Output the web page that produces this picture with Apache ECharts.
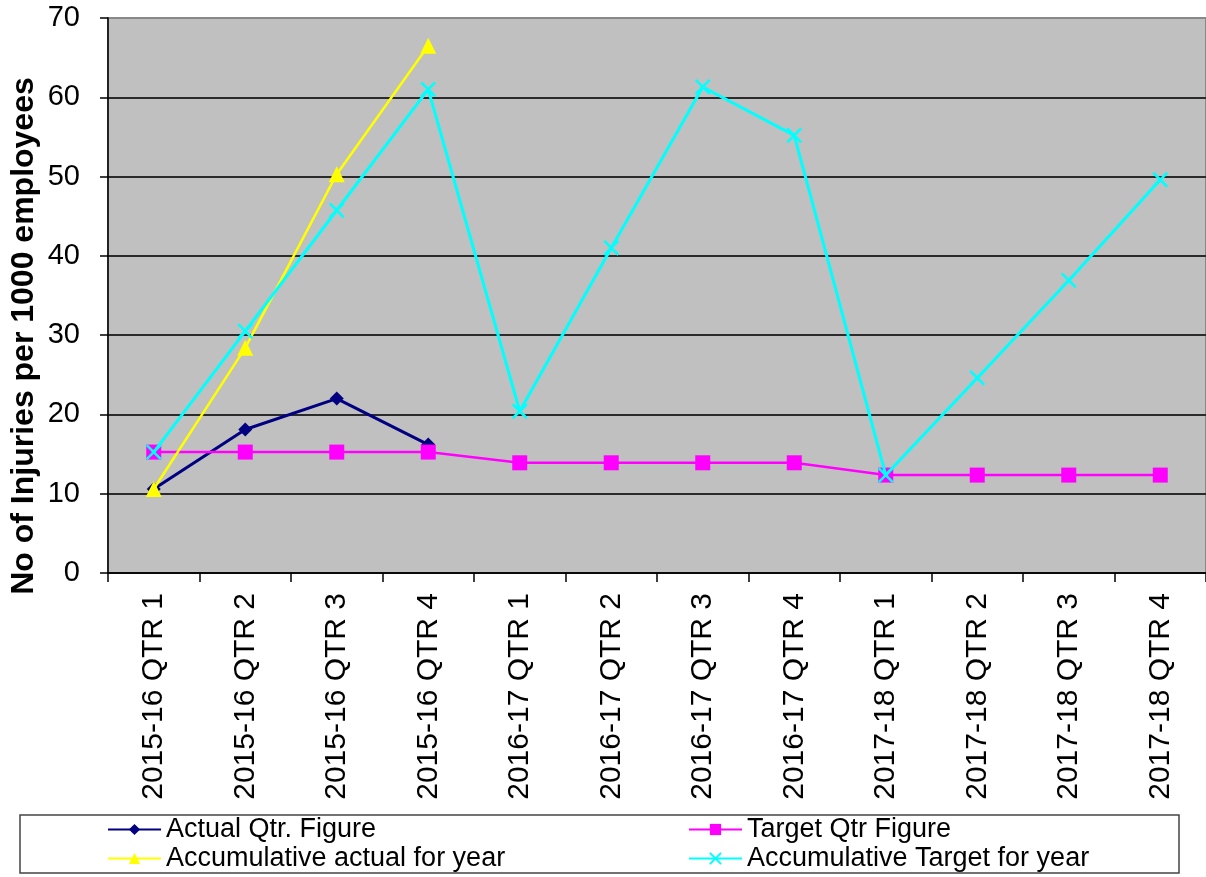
<!DOCTYPE html>
<html>
<head>
<meta charset="utf-8">
<title>Injuries per 1000 employees</title>
<script src="https://cdn.jsdelivr.net/npm/echarts@6/dist/echarts.min.js"></script>
<style>
  html, body { margin: 0; padding: 0; background: #ffffff; }
  #chart { width: 1206px; height: 877px; }
</style>
</head>
<body>
<div id="chart"></div>
<script>
// Quarterly periods on the category axis
const quarters = [
  '2015-16 QTR 1', '2015-16 QTR 2', '2015-16 QTR 3', '2015-16 QTR 4',
  '2016-17 QTR 1', '2016-17 QTR 2', '2016-17 QTR 3', '2016-17 QTR 4',
  '2017-18 QTR 1', '2017-18 QTR 2', '2017-18 QTR 3', '2017-18 QTR 4'
];

// Injuries per 1000 employees
const actualQtr = [10.6, 18.1, 22.0, 16.2, null, null, null, null, null, null, null, null];
const targetQtr = [15.25, 15.25, 15.25, 15.25, 13.9, 13.9, 13.9, 13.9, 12.35, 12.35, 12.35, 12.35];
const accumActual = [10.6, 28.4, 50.3, 66.5, null, null, null, null, null, null, null, null];
const accumTarget = [15.25, 30.5, 45.75, 61.0, 20.4, 41.0, 61.3, 55.2, 12.35, 24.6, 36.9, 49.6];

// Y axis ticks
const yMin = 0, yMax = 70, yStep = 10;

const FONT = "'Liberation Sans', Arial, sans-serif";
const crossPath = 'path://M0,0L10,10M10,0L0,10';

const chart = echarts.init(document.getElementById('chart'), null, { renderer: 'canvas' });

// Gridline colours: top line matches the grey frame, others dark
const splitColors = [];
for (let v = yMin; v <= yMax; v += yStep) splitColors.push(v === yMax ? '#888888' : '#2b2b2b');

// One legend entry per slot so the two columns line up
function legendSlot(name, left, top) {
  return {
    data: [name], left: left, top: top, padding: 0,
    itemWidth: 53, itemHeight: 14,
    textStyle: { fontFamily: FONT, fontSize: 27, color: '#000' }
  };
}

chart.setOption({
  animation: false,
  backgroundColor: '#ffffff',
  textStyle: { fontFamily: FONT },
  grid: {
    left: 108, right: 0, top: 18, bottom: 304,
    show: true, backgroundColor: '#c0c0c0', borderColor: '#888888', borderWidth: 2
  },
  graphic: [
    {
      type: 'rect', z: -1, silent: true,
      shape: { x: 20, y: 815, width: 1159, height: 58 },
      style: { fill: '#ffffff', stroke: '#444444', lineWidth: 1.5 }
    },
    {
      type: 'text', silent: true,
      x: 24, y: 336, rotation: Math.PI / 2,
      style: {
        text: 'No of Injuries per 1000 employees',
        font: 'bold 32px ' + FONT,
        fill: '#000', align: 'center', verticalAlign: 'middle'
      }
    }
  ],
  legend: [
    legendSlot('Actual Qtr. Figure', 107, 816),
    legendSlot('Target Qtr Figure', 688, 816),
    legendSlot('Accumulative actual for year', 107, 845),
    legendSlot('Accumulative Target for year', 688, 845)
  ],
  xAxis: {
    type: 'category',
    data: quarters,
    boundaryGap: true,
    axisLine: { lineStyle: { color: '#000', width: 1.5 } },
    axisTick: { show: true, length: 9, alignWithLabel: false, lineStyle: { color: '#000', width: 1.5 } },
    axisLabel: { rotate: 90, fontSize: 30, color: '#000', margin: 20, fontFamily: FONT, interval: 0 },
    splitLine: { show: false }
  },
  yAxis: {
    type: 'value',
    min: yMin, max: yMax, interval: yStep,
    axisLine: { show: true, lineStyle: { color: '#000', width: 1.5 } },
    axisTick: { show: true, length: 8, lineStyle: { color: '#000', width: 1.5 } },
    axisLabel: { fontSize: 29, color: '#000', margin: 28, fontFamily: FONT },
    splitLine: { show: true, lineStyle: { color: splitColors, width: 2 } }
  },
  series: [
    {
      name: 'Actual Qtr. Figure', type: 'line', data: actualQtr,
      symbol: 'diamond', symbolSize: 14, showAllSymbol: true,
      lineStyle: { color: '#000080', width: 3 },
      itemStyle: { color: '#000080' },
      z: 2
    },
    {
      name: 'Target Qtr Figure', type: 'line', data: targetQtr,
      symbol: 'rect', symbolSize: 15, showAllSymbol: true,
      lineStyle: { color: '#ff00ff', width: 2.5 },
      itemStyle: { color: '#ff00ff' },
      z: 3
    },
    {
      name: 'Accumulative actual for year', type: 'line', data: accumActual,
      symbol: 'triangle', symbolSize: 16, showAllSymbol: true,
      lineStyle: { color: '#ffff00', width: 2.5 },
      itemStyle: { color: '#ffff00' },
      z: 4
    },
    {
      name: 'Accumulative Target for year', type: 'line', data: accumTarget,
      symbol: crossPath, symbolSize: 14, showAllSymbol: true,
      lineStyle: { color: '#00ffff', width: 3 },
      itemStyle: { color: '#00ffff', borderColor: '#00ffff', borderWidth: 2.5 },
      z: 5
    }
  ]
});
</script>
</body>
</html>
